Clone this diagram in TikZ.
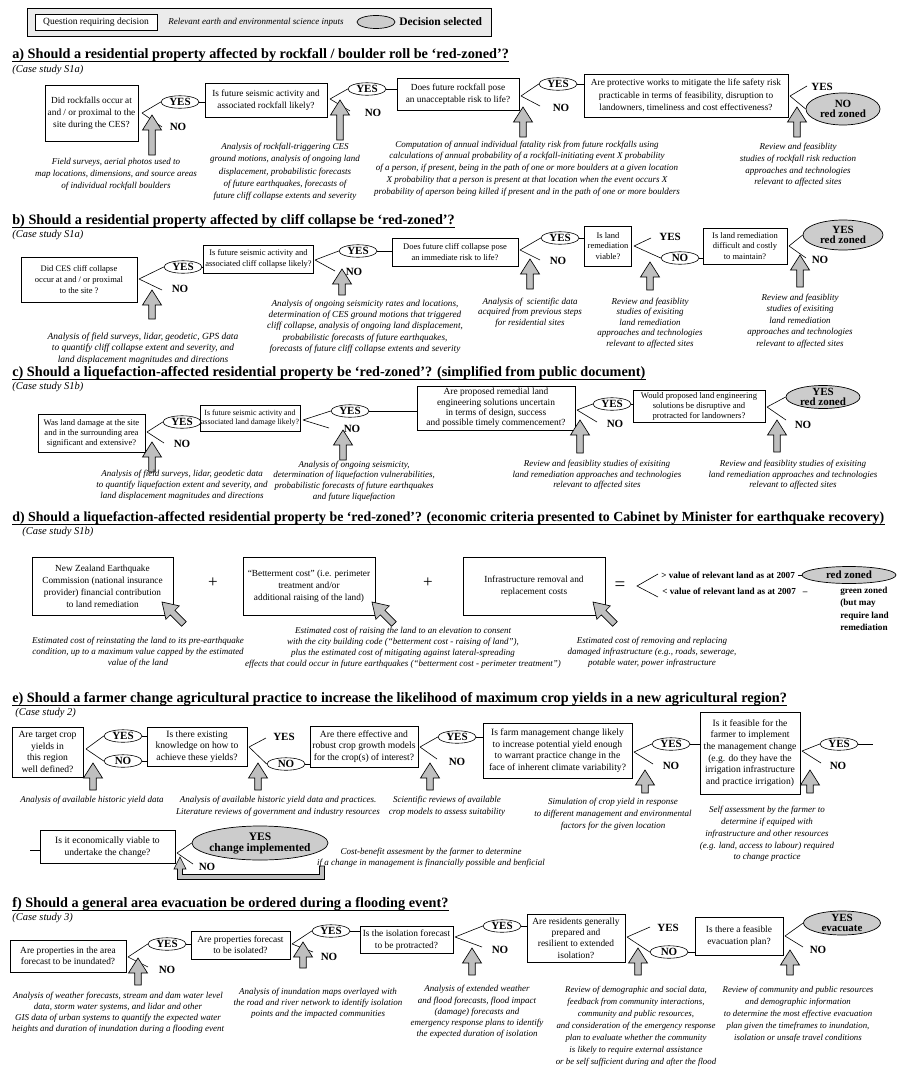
\documentclass[tikz,border=0pt]{standalone}
\usepackage{fontspec}
\setmainfont{Liberation Serif}
\usetikzlibrary{shapes.geometric}
\tikzset{
 qbox/.style={draw, line width=0.8pt, fill=white, align=center, inner sep=0pt},
 fa/.style={font=\fontsize{9.3}{12.2}\selectfont},
 fb/.style={font=\fontsize{8.5}{10.6}\selectfont},
 fd/.style={font=\fontsize{9.3}{12}\selectfont},
 fe/.style={font=\fontsize{9.6}{11.6}\selectfont},
 ff/.style={font=\fontsize{9.4}{11.4}\selectfont},
 note/.style={align=center, inner sep=0pt, font=\fontsize{9}{11.8}\selectfont\itshape},
 yesn/.style={ellipse, draw, line width=0.6pt, fill=white, inner sep=0pt, minimum width=38pt, minimum height=12.5pt, font=\fontsize{11}{10}\selectfont\bfseries},
 lbl/.style={inner sep=0pt, font=\fontsize{11}{10}\selectfont\bfseries},
 decn/.style={ellipse, draw, line width=0.7pt, fill=black!20, inner sep=0pt, align=center, font=\fontsize{11}{10.5}\selectfont\bfseries},
 ttl/.style={anchor=base west, inner sep=0pt, font=\fontsize{14.25}{14}\selectfont\bfseries},
 casen/.style={anchor=west, inner sep=0pt, font=\fontsize{10.5}{12}\selectfont\itshape},
 barrow/.style={draw=black, line width=0.65pt, fill=black!25, line join=miter},
 uline/.style={line width=1.1pt},
}
\newcommand\BArr[4]{\begin{scope}[shift={(#1,#2)},rotate=#3]\draw[barrow] (0,0) -- (-15,9.5) -- (-15,3.3) -- (-#4,3.3) -- (-#4,-3.3) -- (-15,-3.3) -- (-15,-9.5) -- cycle;\end{scope}}
\newcommand\Uln[1]{\draw[uline] ([yshift=-3.2pt]#1.base west) -- ([yshift=-3.2pt]#1.base east);}
\begin{document}
\begin{tikzpicture}[x=1pt,y=-1pt,line width=0.6pt]
\fill[white] (0,0) rectangle (898,1068);
\useasboundingbox (0,0) rectangle (898,1068);

% ---------- legend
\node[draw, line width=0.7pt, fill=black!8, minimum width=464, minimum height=28, inner sep=0] (leg) at (259,22) {};
\node[qbox, line width=0.6pt, minimum width=122, minimum height=16, font=\fontsize{9.5}{11}\selectfont] (legq) at (96,22) {Question requiring decision};
\node[inner sep=0, font=\fontsize{9}{11}\selectfont\itshape] (legi) at (256,22) {Relevant earth and environmental science inputs};
\node[decn, minimum width=38, minimum height=13] (lege) at (376,22) {};
\node[anchor=west, inner sep=0, font=\fontsize{11.5}{12}\selectfont\bfseries] (legd) at (399,22) {Decision selected};

% ---------- a
\node[ttl] (ta) at (12,58) {a) Should a residential property affected by rockfall / boulder roll be `red-zoned'?};
\Uln{ta}
\node[casen] (ca) at (12,70) {(Case study S1a)};
\node[qbox, fa, minimum width=93, minimum height=56] (a1) at (91.5,113) {Did rockfalls occur at\\and / or proximal to the\\site during the CES?};
\coordinate (a1v) at (142,113);
\node[yesn] (a1y) at (180,102) {YES};
\coordinate (a1ne) at (162,127);
\node[lbl] (a1n) at (178,127) {NO};
\draw (a1v) -- (a1y.west) (a1v) -- (a1ne);
\node[qbox, fa, minimum width=122, minimum height=34] (a2) at (266,100) {Is future seismic activity and\\associated rockfall likely?};
\draw (a1y.east) -- (a1y.east -| a2.west);
\coordinate (a2v) at (330,99);
\node[yesn] (a2y) at (367,89) {YES};
\coordinate (a2ne) at (350,111);
\node[lbl] (a2n) at (373,113) {NO};
\draw (a2v) -- (a2y.west) (a2v) -- (a2ne);
\node[qbox, fa, minimum width=122, minimum height=32] (a3) at (458,94.5) {Does future rockfall pose\\an unacceptable risk to life?};
\draw (a2y.east) -- (a2y.east -| a3.west);
\coordinate (a3v) at (521,96);
\node[yesn] (a3y) at (558,84) {YES};
\coordinate (a3ne) at (540,106);
\node[lbl] (a3n) at (561,108) {NO};
\draw (a3v) -- (a3y.west) (a3v) -- (a3ne);
\node[qbox, fa, minimum width=204, minimum height=43] (a4) at (686,95.5) {Are protective works to mitigate the life safety risk\\practicable in terms of feasibility, disruption to\\landowners, timeliness and cost effectiveness?};
\draw (a3y.east) -- (a3y.east -| a4.west);
\coordinate (a4v) at (790,96);
\coordinate (a4ye) at (807,86);
\node[lbl] (a4yt) at (822,87) {YES};
\node[decn, minimum width=74, minimum height=32] (a4d) at (843,109) {NO\\red zoned};
\draw (a4v) -- (a4ye) (a4v) -- (a4d.west);
\BArr{152}{115}{90}{40}
\BArr{340}{100}{90}{40}
\BArr{523}{107}{90}{30}
\BArr{797}{107}{90}{30}
\node[note] (na1) at (116,174.5) {Field surveys, aerial photos used to\\map locations, dimensions, and source areas\\of individual rockfall boulders};
\node[note, font=\fontsize{9}{12.4}\selectfont\itshape] (na2) at (285,172) {Analysis of rockfall-triggering CES\\ground motions, analysis of ongoing land\\displacement, probabilistic forecasts\\of future earthquakes, forecasts of\\future cliff collapse extents and severity};
\node[note] (na3) at (527,168.5) {Computation of annual individual fatality risk from future rockfalls using\\calculations of annual probability of a rockfall-initiating event X probability\\of a person, if present, being in the path of one or more boulders at a given location\\X probability that a person is present at that location when the event occurs X\\probability of aperson being killed if present and in the path of one or more boulders};
\node[note] (na4) at (798,165) {Review and feasiblity\\studies of rockfall risk reduction\\approaches and technologies\\relevant to affected sites};

% ---------- b
\node[ttl] (tb) at (12,224) {b) Should a residential property affected by cliff collapse be `red-zoned'?};
\Uln{tb}
\node[casen] (cb) at (12,235) {(Case study S1a)};
\node[qbox, fb, minimum width=116, minimum height=45] (b1) at (79,279.5) {Did CES cliff collapse\\occur at and / or proximal\\to the site ?};
\coordinate (b1v) at (139,279);
\node[yesn] (b1y) at (183,267) {YES};
\coordinate (b1ne) at (162,290);
\node[lbl] (b1n) at (180,289) {NO};
\draw (b1v) -- (b1y.west) (b1v) -- (b1ne);
\node[qbox, fb, minimum width=110, minimum height=28] (b2) at (258.5,259) {Is future seismic activity and\\associated cliff collapse likely?};
\draw (b1y.east) -- (b1y.east -| b2.west);
\coordinate (b2v) at (315,260);
\node[yesn] (b2y) at (358,251) {YES};
\coordinate (b2ne) at (335,271);
\node[lbl] (b2n) at (354,272) {NO};
\draw (b2v) -- (b2y.west) (b2v) -- (b2ne);
\node[qbox, fb, minimum width=126, minimum height=28] (b3) at (455,252) {Does future cliff collapse pose\\an immediate risk to life?};
\draw (b2y.east) -- (b2y.east -| b3.west);
\coordinate (b3v) at (520,250);
\node[yesn] (b3y) at (560,238) {YES};
\coordinate (b3ne) at (540,260);
\node[lbl] (b3n) at (558,261) {NO};
\draw (b3v) -- (b3y.west) (b3v) -- (b3ne);
\node[qbox, fb, minimum width=47, minimum height=40] (b4) at (608,246) {Is land\\remediation\\viable?};
\draw (b3y.east) -- (b3y.east -| b4.west);
\coordinate (b4v) at (634,246);
\coordinate (b4ye) at (651,238);
\node[lbl] (b4yt) at (670,237) {YES};
\node[yesn] (b4no) at (680,258) {NO};
\draw (b4v) -- (b4ye) (b4v) -- (b4no.west);
\node[qbox, fb, minimum width=84, minimum height=36] (b5) at (745,246) {Is land remediation\\difficult and costly\\to maintain?};
\draw (b4no.east) -- (b4no.east -| b5.west);
\coordinate (b5v) at (789,246);
\node[decn, minimum width=80, minimum height=30] (b5d) at (843,235) {YES\\red zoned};
\coordinate (b5ne) at (806,258);
\node[lbl] (b5n) at (820,260) {NO};
\draw (b5v) -- (b5d.west) (b5v) -- (b5ne);
\BArr{152}{290}{90}{29}
\BArr{342}{269}{90}{26}
\BArr{530}{259}{90}{30}
\BArr{650}{262}{90}{28}
\BArr{800}{255}{90}{32}
\node[note, font=\fontsize{9.4}{11.2}\selectfont\itshape] (nb1) at (143,348.5) {Analysis of field surveys, lidar, geodetic, GPS data\\to quantify cliff collapse extent and severity, and\\land displacement magnitudes and directions};
\node[note, font=\fontsize{9.2}{11.3}\selectfont\itshape] (nb2) at (365,326.5) {Analysis of ongoing seismicity rates and locations,\\determination of CES ground motions that triggered\\cliff collapse, analysis of ongoing land displacement,\\probabilistic forecasts of future earthquakes,\\forecasts of future cliff collapse extents and severity};
\node[note, font=\fontsize{9}{10.6}\selectfont\itshape] (nb3) at (530,312.5) {Analysis of\ \ scientific data\\acquired from previous steps\\for residential sites};
\node[note, font=\fontsize{9}{10.6}\selectfont\itshape] (nb4) at (650,323) {Review and feasiblity\\studies of exisiting\\land remediation\\approaches and technologies\\relevant to affected sites};
\node[note, font=\fontsize{9}{11.5}\selectfont\itshape] (nb5) at (800,321) {Review and feasiblity\\studies of exisiting\\land remediation\\approaches and technologies\\relevant to affected sites};

% ---------- c
\node[ttl] (tc) at (12,376) {c) Should a liquefaction-affected residential property be `red-zoned'? (simplified from public document)};
\Uln{tc}
\node[casen] (cc) at (12,387) {(Case study S1b)};
\node[qbox, font=\fontsize{8.6}{10.3}\selectfont, minimum width=107, minimum height=38] (c1) at (91.5,433.5) {Was land damage at the site\\and in the surrounding area\\significant and extensive?};
\coordinate (c1v) at (147,432);
\node[yesn] (c1y) at (182,422) {YES};
\coordinate (c1ne) at (164,443);
\node[lbl] (c1n) at (182,444) {NO};
\draw (c1v) -- (c1y.west) (c1v) -- (c1ne);
\node[qbox, font=\fontsize{7.9}{9.6}\selectfont, minimum width=100, minimum height=26] (c2) at (250,418) {Is future seismic activity and\\associated land damage likely?};
\draw (c1y.east) -- (c1y.east -| c2.west);
\coordinate (c2v) at (303,420);
\node[yesn] (c2y) at (350,411) {YES};
\coordinate (c2ne) at (329,428);
\node[lbl] (c2n) at (352,429) {NO};
\draw (c2v) -- (c2y.west) (c2v) -- (c2ne);
\node[qbox, font=\fontsize{9.4}{10.2}\selectfont, minimum width=158, minimum height=44] (c3) at (496,408) {Are proposed remedial land\\engineering solutions uncertain\\in terms of design, success\\and possible timely commencement?};
\draw (c2y.east) -- (c2y.east -| c3.west);
\coordinate (c3v) at (577,410);
\node[yesn] (c3y) at (612,404) {YES};
\coordinate (c3ne) at (597,422);
\node[lbl] (c3n) at (615,424) {NO};
\draw (c3v) -- (c3y.west) (c3v) -- (c3ne);
\node[qbox, font=\fontsize{8.6}{10}\selectfont, minimum width=132, minimum height=32] (c4) at (699,406.5) {Would proposed land engineering\\solutions be disruptive and\\protracted for landowners?};
\draw (c3y.east) -- (c3y.east -| c4.west);
\coordinate (c4v) at (767,407);
\node[decn, minimum width=74, minimum height=23, inner ysep=-2.5pt] (c4d) at (823,397) {YES\\red zoned};
\coordinate (c4ne) at (786,420);
\node[lbl] (c4n) at (803,425) {NO};
\draw (c4v) -- (c4d.west) (c4v) -- (c4ne);
\BArr{152}{442}{90}{30}
\BArr{343}{430}{90}{30}
\BArr{580}{420}{90}{33}
\BArr{777}{420}{90}{32}
\node[note, font=\fontsize{9}{11}\selectfont\itshape] (nc1) at (182,485.5) {Analysis of field surveys, lidar, geodetic data\\to quantify liquefaction extent and severity, and\\land displacement magnitudes and directions};
\node[note, font=\fontsize{9}{10.8}\selectfont\itshape] (nc2) at (354,481) {Analysis of ongoing seismicity,\\determination of liquefaction vulnerabilities,\\probabilistic forecasts of future earthquakes\\and future liquefaction};
\node[note, font=\fontsize{9}{10.5}\selectfont\itshape] (nc3) at (597,475) {Review and feasiblity studies of exisiting\\land remediation approaches and technologies\\relevant to affected sites};
\node[note, font=\fontsize{9}{10.5}\selectfont\itshape] (nc4) at (793,475) {Review and feasiblity studies of exisiting\\land remediation approaches and technologies\\relevant to affected sites};

% ---------- d
\node[ttl, font=\fontsize{13.85}{14}\selectfont\bfseries] (td) at (12,521) {d) Should a liquefaction-affected residential property be `red-zoned'? (economic criteria presented to Cabinet by Minister for earthquake recovery)};
\Uln{td}
\node[casen] (cd) at (22,532) {(Case study S1b)};
\node[qbox, fd, minimum width=141, minimum height=58] (d1) at (102.5,586) {New Zealand Earthquake\\Commission (national insurance\\provider) financial contribution\\to land remediation};
\node[inner sep=0, font=\fontsize{17}{17}\selectfont] (p1) at (213,583) {+};
\node[qbox, fd, minimum width=132, minimum height=58] (d2) at (309,586) {``Betterment cost'' (i.e. perimeter\\treatment and/or\\additional raising of the land)};
\node[inner sep=0, font=\fontsize{17}{17}\selectfont] (p2) at (428,583) {+};
\node[qbox, fd, minimum width=142, minimum height=58] (d3) at (534,586) {Infrastructure removal and\\replacement costs};
\node[inner sep=0, font=\fontsize{19}{19}\selectfont] (eq) at (620,586) {=};
\coordinate (brv) at (637,586);
\coordinate (br1) at (658,574);
\coordinate (br2) at (658,597);
\draw (br1) -- (brv) -- (br2);
\node[anchor=west, inner ysep=0pt, inner xsep=3pt, font=\fontsize{9.2}{11}\selectfont\bfseries] (cr1) at (658,575) {> value of relevant land as at 2007};
\node[decn, minimum width=94, minimum height=17] (dred) at (849,575) {red zoned};
\draw (cr1.east) -- (dred.west);
\node[anchor=west, inner sep=0pt, font=\fontsize{9.2}{11}\selectfont\bfseries] (cr2) at (662,591) {< value of relevant land as at 2007\hspace{7pt}--};
\node[anchor=north west, inner sep=0pt, align=left, font=\fontsize{9.2}{12.3}\selectfont\bfseries] (green) at (840,587) {green zoned\\(but may\\require land\\remediation};
\BArr{162}{602}{135}{31}
\BArr{372}{602}{135}{31}
\BArr{593}{602}{135}{31}
\node[note, font=\fontsize{9}{11.2}\selectfont\itshape] (nd1) at (138,652) {Estimated cost of reinstating the land to its pre-earthquake\\condition, up to a maximum value capped by the estimated\\value of the land};
\node[note, font=\fontsize{9}{11}\selectfont\itshape] (nd2) at (403,647.5) {Estimated cost of raising the land to an elevation to consent\\with the city building code (``betterment cost - raising of land''),\\plus the estimated cost of mitigating against lateral-spreading\\effects that could occur in future earthquakes (``betterment cost - perimeter treatment'')};
\node[note, font=\fontsize{9}{11.2}\selectfont\itshape] (nd3) at (652,652.5) {Estimated cost of removing and replacing\\damaged infrastructure (e.g., roads, sewerage,\\potable water, power infrastructure};

% ---------- e
\node[ttl] (te) at (12,702) {e) Should a farmer change agricultural practice to increase the likelihood of maximum crop yields in a new agricultural region?};
\Uln{te}
\node[casen] (ce) at (15,713) {(Case study 2)};
\node[qbox, fe, minimum width=71, minimum height=50] (e1) at (47.5,752) {Are target crop\\yields in\\this region\\well defined?};
\coordinate (e1v) at (86,749);
\node[yesn] (e1y) at (123,736) {YES};
\node[yesn] (e1no) at (123,761) {NO};
\draw (e1v) -- (e1y.west) (e1v) -- (e1no.west);
\node[qbox, fe, minimum width=100, minimum height=39] (e2) at (197,746.5) {Is there existing\\knowledge on how to\\achieve these yields?};
\draw (e1y.east) -- (e1y.east -| e2.west) (e1no.east) -- (e1no.east -| e2.west);
\coordinate (e2v) at (249,747);
\coordinate (e2ye) at (266,738);
\node[lbl] (e2yt) at (284,737) {YES};
\node[yesn] (e2no) at (286,764) {NO};
\draw (e2v) -- (e2ye) (e2v) -- (e2no.west);
\node[qbox, fe, minimum width=108, minimum height=41] (e3) at (364,746.5) {Are there effective and\\robust crop growth models\\for the crop(s) of interest?};
\draw (e2no.east) -- (e2no.east -| e3.west);
\coordinate (e3v) at (420,747);
\node[yesn] (e3y) at (457,737) {YES};
\coordinate (e3ne) at (437,759);
\node[lbl] (e3n) at (457,762) {NO};
\draw (e3v) -- (e3y.west) (e3v) -- (e3ne);
\node[qbox, fe, minimum width=149, minimum height=55] (e4) at (557.5,750.5) {Is farm management change likely\\to increase potential yield enough\\to warrant practice change in the\\face of inherent climate variability?};
\draw (e3y.east) -- (e3y.east -| e4.west);
\coordinate (e4v) at (634,752);
\node[yesn] (e4y) at (671,744) {YES};
\coordinate (e4ne) at (653,764);
\node[lbl] (e4n) at (671,766) {NO};
\draw (e4v) -- (e4y.west) (e4v) -- (e4ne);
\node[qbox, fe, minimum width=100, minimum height=82] (e5) at (750,753) {Is it feasible for the\\farmer to implement\\the management change\\(e.g. do they have the\\irrigation infrastructure\\and practice irrigation)};
\draw (e4y.east) -- (e4y.east -| e5.west);
\coordinate (e5v) at (802,751);
\node[yesn] (e5y) at (839,744) {YES};
\coordinate (e5stub) at (873,744);
\draw (e5y.east) -- (e5stub);
\coordinate (e5ne) at (821,763);
\node[lbl] (e5n) at (838,766) {NO};
\draw (e5v) -- (e5y.west) (e5v) -- (e5ne);
\node[qbox, fe, minimum width=135, minimum height=33] (e6) at (107.5,847) {Is it economically viable to\\undertake the change?};
\coordinate (e6stub) at (30,850);
\draw (e6stub) -- (e6stub -| e6.west);
\coordinate (e6v) at (177,853);
\node[decn, minimum width=136, minimum height=34, inner xsep=-6pt, font=\fontsize{11.5}{11}\selectfont\bfseries] (e6d) at (260,843) {YES\\change implemented};
\coordinate (e6ne) at (193,864);
\node[lbl] (e6n) at (207,867) {NO};
\draw (e6v) -- (e6d.west) (e6v) -- (e6ne);
\draw[barrow] (180,857) -- (186,869) -- (182.5,869) -- (182.5,874.5) -- (319.5,874.5) -- (319.5,866) -- (324.5,866) -- (324.5,879.5) -- (177.5,879.5) -- (177.5,869) -- (174,869) -- cycle;
\BArr{93}{763}{90}{27}
\BArr{258}{763}{90}{27}
\BArr{430}{763}{90}{27}
\BArr{645}{770}{90}{23}
\BArr{810}{770}{90}{23}
\node[note] (ne1) at (92,800) {Analysis of available historic yield data};
\node[note] (ne2) at (278,806) {Analysis of available historic yield data and practices.\\Literature reviews of government and industry resources};
\node[note] (ne3) at (447,806) {Scientific reviews of available\\crop models to assess suitability};
\node[note] (ne4) at (613,814.5) {Simulation of crop yield in response\\to different management and environmental\\factors for the given location};
\node[note] (ne5) at (767,834) {Self assessment by the farmer to\\determine if equiped with\\infrastructure and other resources\\(e.g. land, access to labour) required\\to change practice};
\node[note, font=\fontsize{9}{11.2}\selectfont\itshape] (ne6) at (431,857.5) {Cost-benefit assesment by the farmer to determine\\if a change in management is financially possible and benficial};

% ---------- f
\node[ttl] (tf) at (12,907) {f) Should a general area evacuation be ordered during a flooding event?};
\Uln{tf}
\node[casen] (cf) at (12,918) {(Case study 3)};
\node[qbox, ff, minimum width=116, minimum height=32] (f1) at (68,956) {Are properties in the area\\forecast to be inundated?};
\coordinate (f1v) at (128,957);
\node[yesn] (f1y) at (167,944) {YES};
\coordinate (f1ne) at (148,967);
\node[lbl] (f1n) at (167,970) {NO};
\draw (f1v) -- (f1y.west) (f1v) -- (f1ne);
\node[qbox, ff, minimum width=99, minimum height=28] (f2) at (240.5,945) {Are properties forecast\\to be isolated?};
\draw (f1y.east) -- (f1y.east -| f2.west);
\coordinate (f2v) at (292,944);
\node[yesn] (f2y) at (331,931) {YES};
\coordinate (f2ne) at (313,952);
\node[lbl] (f2n) at (329,957) {NO};
\draw (f2v) -- (f2y.west) (f2v) -- (f2ne);
\node[qbox, ff, minimum width=93, minimum height=27] (f3) at (406.5,940) {Is the isolation forecast\\to be protracted?};
\draw (f2y.east) -- (f2y.east -| f3.west);
\coordinate (f3v) at (455,937);
\node[yesn] (f3y) at (502,926) {YES};
\coordinate (f3ne) at (482,947);
\node[lbl] (f3n) at (500,950) {NO};
\draw (f3v) -- (f3y.west) (f3v) -- (f3ne);
\node[qbox, ff, minimum width=98, minimum height=48] (f4) at (576,938) {Are residents generally\\prepared and\\resilient to extended\\isolation?};
\draw (f3y.east) -- (f3y.east -| f4.west);
\coordinate (f4v) at (627,937);
\coordinate (f4ye) at (650,927);
\node[lbl] (f4yt) at (668,928) {YES};
\node[yesn] (f4no) at (669,952) {NO};
\draw (f4v) -- (f4ye) (f4v) -- (f4no.west);
\node[qbox, ff, minimum width=88, minimum height=38] (f5) at (739,936) {Is there a feasible\\evacuation plan?};
\draw (f4no.east) -- (f4no.east -| f5.west);
\coordinate (f5v) at (785,936);
\node[decn, minimum width=77, minimum height=24, inner ysep=-2.5pt] (f5d) at (842,923) {YES\\evacuate};
\coordinate (f5ne) at (803,947);
\node[lbl] (f5n) at (818,950) {NO};
\draw (f5v) -- (f5d.west) (f5v) -- (f5ne);
\BArr{138}{958}{90}{27}
\BArr{303}{942}{90}{26}
\BArr{472}{948}{90}{27}
\BArr{638}{948}{90}{27}
\BArr{790}{950}{90}{25}
\node[note, font=\fontsize{9}{11}\selectfont\itshape] (nf1) at (118,1013) {Analysis of weather forecasts, stream and dam water level\\data, storm water systems, and lidar and other\\GIS data of urban systems to quantify the expected water\\heights and duration of inundation during a flooding event};
\node[note, font=\fontsize{9}{11.2}\selectfont\itshape] (nf2) at (318,1003) {Analysis of inundation maps overlayed with\\the road and river network to identify isolation\\points and the impacted communities};
\node[note, font=\fontsize{9}{11.2}\selectfont\itshape] (nf3) at (477,1012) {Analysis of extended weather\\and flood forecasts, flood impact\\(damage) forecasts and\\emergency response plans to identify\\the expected duration of isolation};
\node[note, font=\fontsize{8.8}{12.1}\selectfont\itshape] (nf4) at (636,1026.5) {Review of demographic and social data,\\feedback from community interactions,\\community and public resources,\\and consideration of the emergency response\\plan to evaluate whether the community\\is likely to require external assistance\\or be self sufficient during and after the flood};
\node[note, font=\fontsize{8.8}{12}\selectfont\itshape] (nf5) at (798,1014) {Review of community and public resources\\and demographic information\\to determine the most effective evacuation\\plan given the timeframes to inundation,\\isolation or unsafe travel conditions};
\end{tikzpicture}
\end{document}
